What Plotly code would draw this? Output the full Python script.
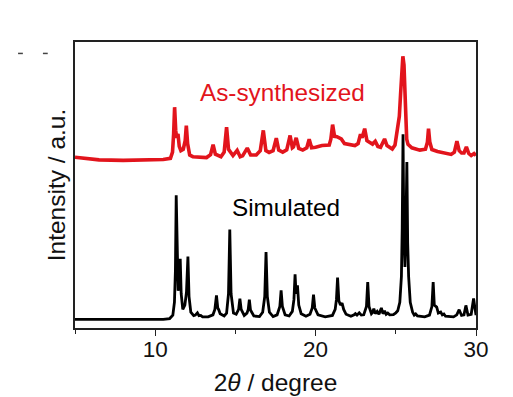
import plotly.graph_objects as go

# ---- data ----
sim_theta = [5.0, 10.5, 10.9, 11.1, 11.2, 11.26, 11.31, 11.37, 11.43, 11.5, 11.56, 11.62, 11.72,
             11.85, 11.95, 12.04, 12.11, 12.22, 12.4, 12.5, 12.63, 12.73, 12.84, 12.95,
             13.3, 13.6, 13.72, 13.82, 13.9, 13.96, 14.05, 14.3,
             14.45, 14.57, 14.65, 14.73, 14.88,
             15.05, 15.2, 15.28, 15.36, 15.55,
             15.72, 15.8, 15.87, 15.94, 16.15,
             16.5, 16.7, 16.83, 16.91, 16.99, 17.12, 17.35,
             17.6, 17.77, 17.85, 17.93, 18.1,
             18.35, 18.55, 18.65, 18.72, 18.78, 18.83, 18.87, 18.95, 19.1, 19.4,
             19.65, 19.79, 19.87, 19.95, 20.15, 20.6,
             21.05, 21.22, 21.3, 21.37, 21.45, 21.55, 21.65, 21.75, 21.9, 22.2,
             22.4, 22.48, 22.58, 22.72, 22.85,
             23.0, 23.17, 23.25, 23.33, 23.48, 23.56, 23.63, 23.72, 23.84, 23.95,
             24.1, 24.2, 24.3, 24.4, 24.5, 24.62, 24.85, 25.0,
             25.12, 25.25, 25.35, 25.4, 25.45, 25.5, 25.57, 25.63, 25.69, 25.74, 25.8, 25.9, 26.05,
             26.15, 26.24, 26.35, 26.8,
             27.1, 27.25, 27.33, 27.4, 27.55, 27.65, 27.8, 27.9, 28.0, 28.1,
             28.6, 28.8, 28.95, 29.1, 29.25, 29.37, 29.5, 29.7, 29.85, 29.95, 30.0]
sim_int = [3.0, 3.0, 3.3, 4.5, 9.0, 20.0, 46.4, 20.0, 13.0, 20.0, 24.2, 12.0, 6.5,
           8.0, 12.5, 25.0, 11.0, 5.5, 4.3, 4.5, 5.3, 4.3, 4.4, 3.9,
           3.9, 4.6, 6.5, 11.4, 7.0, 6.4, 5.0, 4.2,
           5.2, 12.0, 34.4, 12.0, 5.2,
           4.8, 6.5, 10.3, 6.5, 4.4,
           5.2, 6.5, 9.9, 6.3, 4.2,
           4.0, 5.5, 11.0, 26.6, 11.0, 5.5, 4.0,
           4.6, 7.5, 13.2, 7.5, 4.6,
           4.2, 5.8, 10.0, 18.8, 12.0, 13.0, 14.9, 8.0, 5.0, 4.1,
           4.8, 7.0, 11.7, 7.0, 4.6, 3.9,
           4.4, 6.5, 10.0, 17.6, 9.5, 8.0, 8.7, 6.5, 4.8, 4.1,
           4.6, 5.0, 4.5, 5.3, 4.5,
           4.6, 7.5, 16.1, 7.5, 5.0, 5.5, 6.8, 5.0, 5.8, 4.8,
           7.0, 5.0, 6.0, 4.8, 5.2, 4.6, 4.7, 5.3,
           6.0, 9.0, 18.0, 35.0, 67.7, 35.0, 21.3, 35.0, 58.0, 30.0, 18.0, 9.0, 5.5,
           4.5, 4.9, 4.2, 3.9,
           4.5, 7.5, 16.1, 8.0, 7.3, 5.2, 5.6, 4.6, 4.9, 4.1,
           3.9, 4.6, 6.4, 4.4, 4.6, 7.9, 4.5, 4.8, 10.3, 5.5, 4.5]

exp_theta = [5.0, 5.5, 6.5, 8.0, 9.5, 10.5, 10.95, 11.08, 11.15, 11.21, 11.28, 11.34, 11.42,
             11.5, 11.6, 11.75, 11.87, 11.94, 12.02, 12.15, 12.35, 12.8, 13.2,
             13.45, 13.61, 13.75, 14.1, 14.3, 14.45, 14.57, 14.85, 15.11, 15.3,
             15.45, 15.74, 15.95, 16.3, 16.55, 16.74, 16.9, 17.1, 17.35, 17.55,
             17.7, 17.95, 18.2, 18.41, 18.55, 18.62, 18.79, 18.95, 19.2, 19.45,
             19.6, 19.75, 20.0, 20.4, 20.85, 20.95, 21.06, 21.18, 21.33, 21.45,
             21.6, 21.8, 21.95, 22.45, 22.65, 22.8, 22.9, 23.06, 23.2, 23.4,
             23.55, 23.72, 23.88, 24.05, 24.18, 24.3, 24.45, 24.6, 24.78, 24.95,
             25.08, 25.14, 25.22, 25.3, 25.37, 25.44, 25.51, 25.6, 25.68, 25.76,
             26.0, 26.5, 26.85, 26.97, 27.04, 27.12, 27.25, 27.6, 28.0, 28.45,
             28.65, 28.81, 28.95, 29.1, 29.25, 29.4, 29.55, 29.7, 29.88, 30.0]
exp_int = [59.7, 59.4, 58.8, 58.6, 58.7, 58.9, 59.3, 61.5, 68.0, 77.2, 69.0, 66.5, 67.9,
           63.5, 62.0, 62.5, 65.5, 70.8, 64.5, 60.5, 59.9, 59.6, 59.6,
           60.6, 64.1, 60.8, 59.9, 61.5, 70.2, 62.5, 60.3, 62.1, 59.9,
           60.2, 62.9, 60.5, 60.5, 62.0, 69.1, 62.0, 61.4, 62.0, 66.4,
           62.2, 61.5, 62.3, 67.3, 63.0, 63.3, 66.5, 62.8, 62.2, 63.0,
           66.0, 63.0, 63.2, 63.8, 64.0, 66.0, 71.1, 67.0, 66.9, 66.5,
           66.1, 64.5, 64.3, 63.8, 64.5, 67.8, 66.5, 69.7, 65.5, 64.6,
           64.3, 65.3, 63.5, 63.2, 64.5, 66.1, 63.8, 63.4, 62.6, 64.0,
           70.0, 71.4, 74.0, 82.0, 92.0, 95.0, 92.0, 77.0, 66.0, 64.2,
           63.0, 62.2, 62.5, 65.0, 69.7, 65.0, 62.4, 61.7, 61.2, 60.7,
           61.5, 65.3, 62.0, 61.2, 61.2, 63.3, 61.0, 60.3, 61.0, 60.3]

x_ticks = [10, 20, 30]
x_minor = [5, 15, 25]

RED = "#E2141C"
FONT = "Arial, Liberation Sans, Helvetica, sans-serif"

fig = go.Figure()
fig.add_trace(go.Scatter(x=exp_theta, y=exp_int, mode="lines",
                         line=dict(color=RED, width=3.6), showlegend=False))
fig.add_trace(go.Scatter(x=sim_theta, y=sim_int, mode="lines",
                         line=dict(color="black", width=2.8), showlegend=False))

fig.add_annotation(x=17.94, y=82.3, text="As-synthesized", showarrow=False,
                   font=dict(family=FONT, size=24.3, color=RED), xanchor="center", yanchor="middle")
fig.add_annotation(x=18.18, y=42.0, text="Simulated", showarrow=False,
                   font=dict(family=FONT, size=24.3, color="black"), xanchor="center", yanchor="middle")

# small stray marks top-left in the reference
for x0, x1 in [(-0.142, -0.130), (-0.080, -0.068)]:
    fig.add_shape(type="line", xref="paper", yref="paper", x0=x0, x1=x1, y0=0.96, y1=0.96,
                  line=dict(color="#444", width=1.5))

fig.update_xaxes(range=[5, 30], tickvals=x_ticks, ticktext=[str(v) for v in x_ticks],
                 ticks="outside", ticklen=6, tickwidth=1.3, tickcolor="#222",
                 minor=dict(tickvals=x_minor, ticks="outside", ticklen=4, tickwidth=1.3, tickcolor="#222"),
                 showline=True, linecolor="#222", linewidth=1.5, mirror=True,
                 showgrid=False, zeroline=False, automargin=False,
                 ticklabelstandoff=-6,
                 tickfont=dict(family=FONT, size=22.5, color="#111"),
                 title=dict(text="2<i>θ</i> / degree", font=dict(family=FONT, size=24.5, color="#111"), standoff=13))
fig.update_yaxes(range=[0, 100], showticklabels=False, ticks="",
                 showline=True, linecolor="#222", linewidth=1.5, mirror=True,
                 showgrid=False, zeroline=False, automargin=False,
                 title=dict(text="Intensity / a.u.", font=dict(family=FONT, size=24.5, color="#111"), standoff=1))

# page body has an 8 px margin, so the figure is sized/offset to compensate
fig.update_layout(width=505, height=389, margin=dict(l=67, r=37, t=34, b=69, autoexpand=False),
                  plot_bgcolor="white", paper_bgcolor="white")

fig.write_html("out.html")
